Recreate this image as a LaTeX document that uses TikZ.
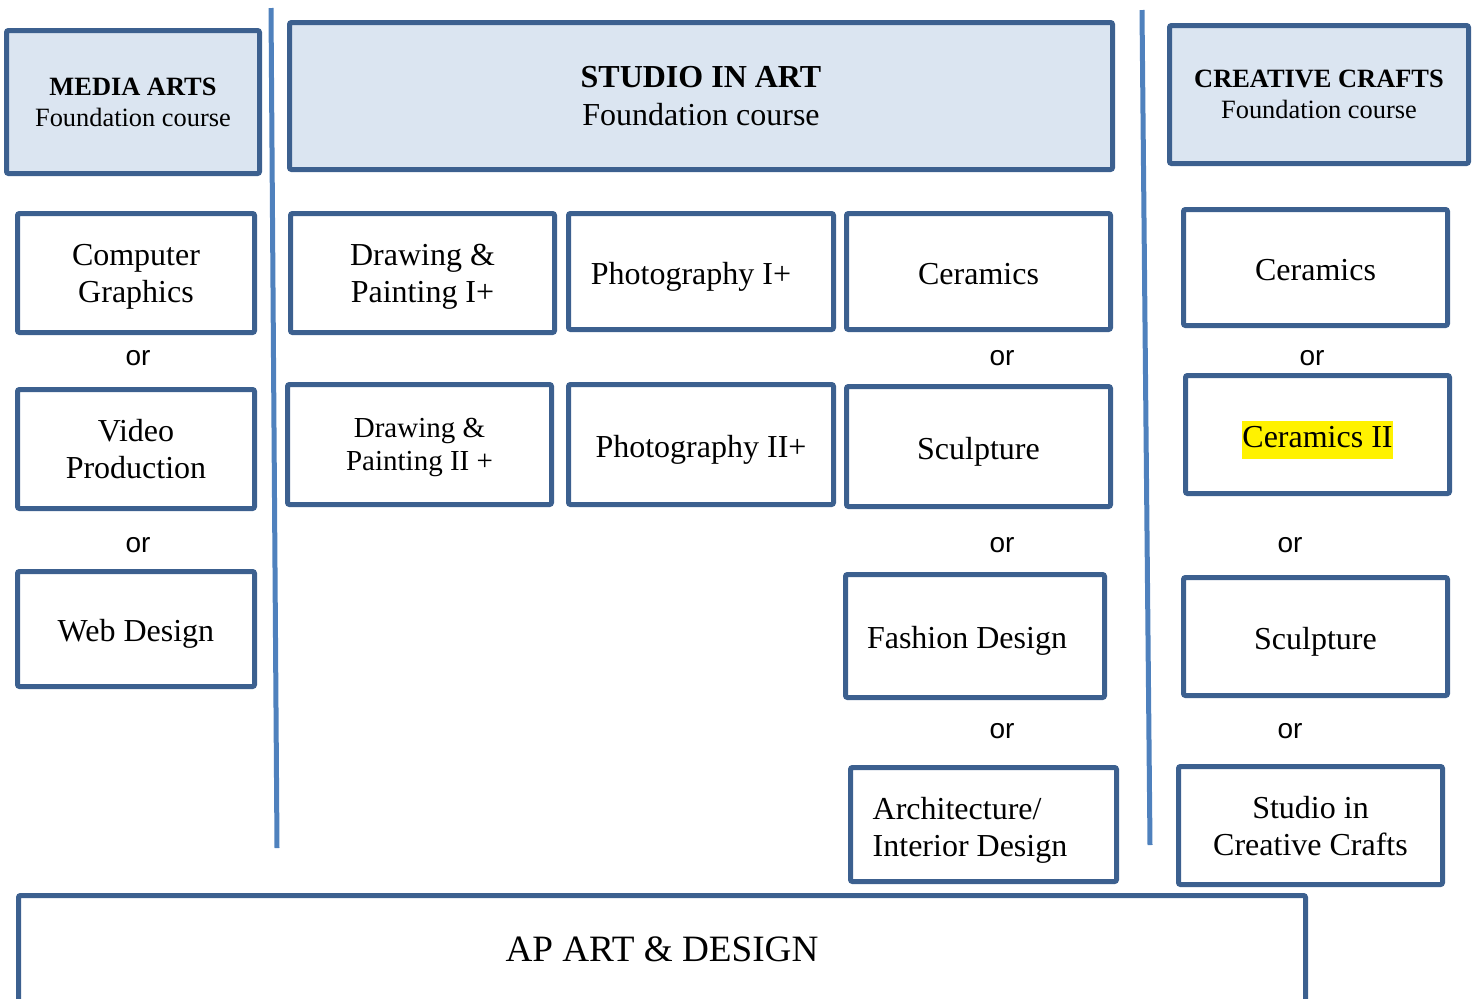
\documentclass[tikz,border=0pt]{standalone}
\usepackage{fontspec}
\setmainfont{Liberation Serif}
\newfontfamily\orfont{Liberation Sans}
\definecolor{boxedge}{RGB}{60,96,143}
\definecolor{divline}{RGB}{79,129,189}
\definecolor{boxfill}{RGB}{219,229,241}
\begin{document}
\begin{tikzpicture}
    [x=0.5pt,y=-0.5pt,
     course/.style={draw=boxedge,line width=2.5pt,rounded corners=1pt,inner sep=0pt,align=center,
       text depth=-2.5pt,execute at begin node={\rule{0pt}{0.81em}},font=\fontsize{16}{18.5}\selectfont},
     found/.style={course,fill=boxfill,text depth=-1.6pt},
     ortext/.style={font=\orfont\fontsize{14}{16}\selectfont,inner sep=0pt},
     divider/.style={divline,line width=2.5pt}]
    \useasboundingbox (0,0) rectangle (1474,998);
    % dividers
    \coordinate (d1top) at (271,8);
    \coordinate (d1bot) at (277,848);
    \coordinate (d2top) at (1142,10);
    \coordinate (d2bot) at (1150,845);
    \draw [divider] (d1top) -- (d1bot);
    \draw [divider] (d2top) -- (d2bot);
    % foundation courses
    \node [found,minimum width=126.5pt,minimum height=71.5pt,font=\fontsize{13.2}{15.5}\selectfont]
      (media) at (133,102) {\textbf{MEDIA ARTS}\\Foundation course};
    \node [found,minimum width=411.5pt,minimum height=73.5pt,font=\fontsize{16}{19}\selectfont]
      (studio) at (701,96) {\textbf{STUDIO IN ART}\\Foundation course};
    \node [found,minimum width=149.5pt,minimum height=69pt,font=\fontsize{13.2}{15.5}\selectfont]
      (crafts) at (1319,94.5) {\textbf{CREATIVE CRAFTS}\\Foundation course};
    % media arts
    \node [course,minimum width=118.5pt,minimum height=59.5pt] (cg) at (136,273) {Computer\\Graphics};
    \node [ortext] (or1) at (138,358) {or};
    \node [course,minimum width=118.5pt,minimum height=59.5pt] (vp) at (136,449) {Video\\Production};
    \node [ortext] (or2) at (138,545) {or};
    \node [course,minimum width=118.5pt,minimum height=57.5pt] (web) at (136,629) {Web Design};
    % studio in art
    \node [course,minimum width=132pt,minimum height=59.5pt] (dp1) at (422.5,273) {Drawing \&\\Painting I+};
    \node [course,minimum width=132.5pt,minimum height=58pt] (ph1) at (701,271.5) {Photography I+\hspace*{10pt}};
    \node [course,minimum width=132pt,minimum height=58pt] (cer1) at (978.5,271.5) {Ceramics};
    \node [course,minimum width=132pt,minimum height=60pt,font=\fontsize{14.5}{16.5}\selectfont]
      (dp2) at (419.5,444.5) {Drawing \&\\Painting II +};
    \node [course,minimum width=132.5pt,minimum height=60pt] (ph2) at (701,444.5) {Photography II+};
    \node [ortext] (or3) at (1002,358) {or};
    \node [course,minimum width=132pt,minimum height=60pt] (scu1) at (978.5,446.5) {Sculpture};
    \node [ortext] (or4) at (1002,545) {or};
    \node [course,minimum width=129.5pt,minimum height=61.5pt] (fash) at (975,636) {Fashion Design\hspace*{8pt}};
    \node [ortext] (or5) at (1002,731) {or};
    \node [course,minimum width=133pt,minimum height=57pt] (arch) at (983.5,824.5) {};
    \node [align=left,inner sep=0pt,font=\fontsize{16}{18.5}\selectfont] (archtext) at (970,830)
      {Architecture/\\Interior Design};
    % creative crafts
    \node [course,minimum width=132pt,minimum height=58pt] (cer2) at (1315.5,267.5) {Ceramics};
    \node [ortext] (or6) at (1312,358) {or};
    \node [course,minimum width=132pt,minimum height=59pt] (cerii) at (1317.5,434.5)
      {\setlength{\fboxsep}{0.3pt}\colorbox{yellow}{\strut Ceramics II}};
    \node [ortext] (or7) at (1290,545) {or};
    \node [course,minimum width=132pt,minimum height=59pt] (scu2) at (1315.5,636.5) {Sculpture};
    \node [ortext] (or8) at (1290,731) {or};
    \node [course,minimum width=132pt,minimum height=59pt] (scc) at (1310.5,825.5) {Studio in\\Creative Crafts};
    % ap
    \node [course,minimum width=643.5pt,minimum height=57pt,text depth=0pt,execute at begin node={},
      font=\fontsize{18.6}{21}\selectfont] (ap) at (662,952.5) {\raisebox{3.5pt}{AP ART \& DESIGN}};
\end{tikzpicture}
\end{document}
